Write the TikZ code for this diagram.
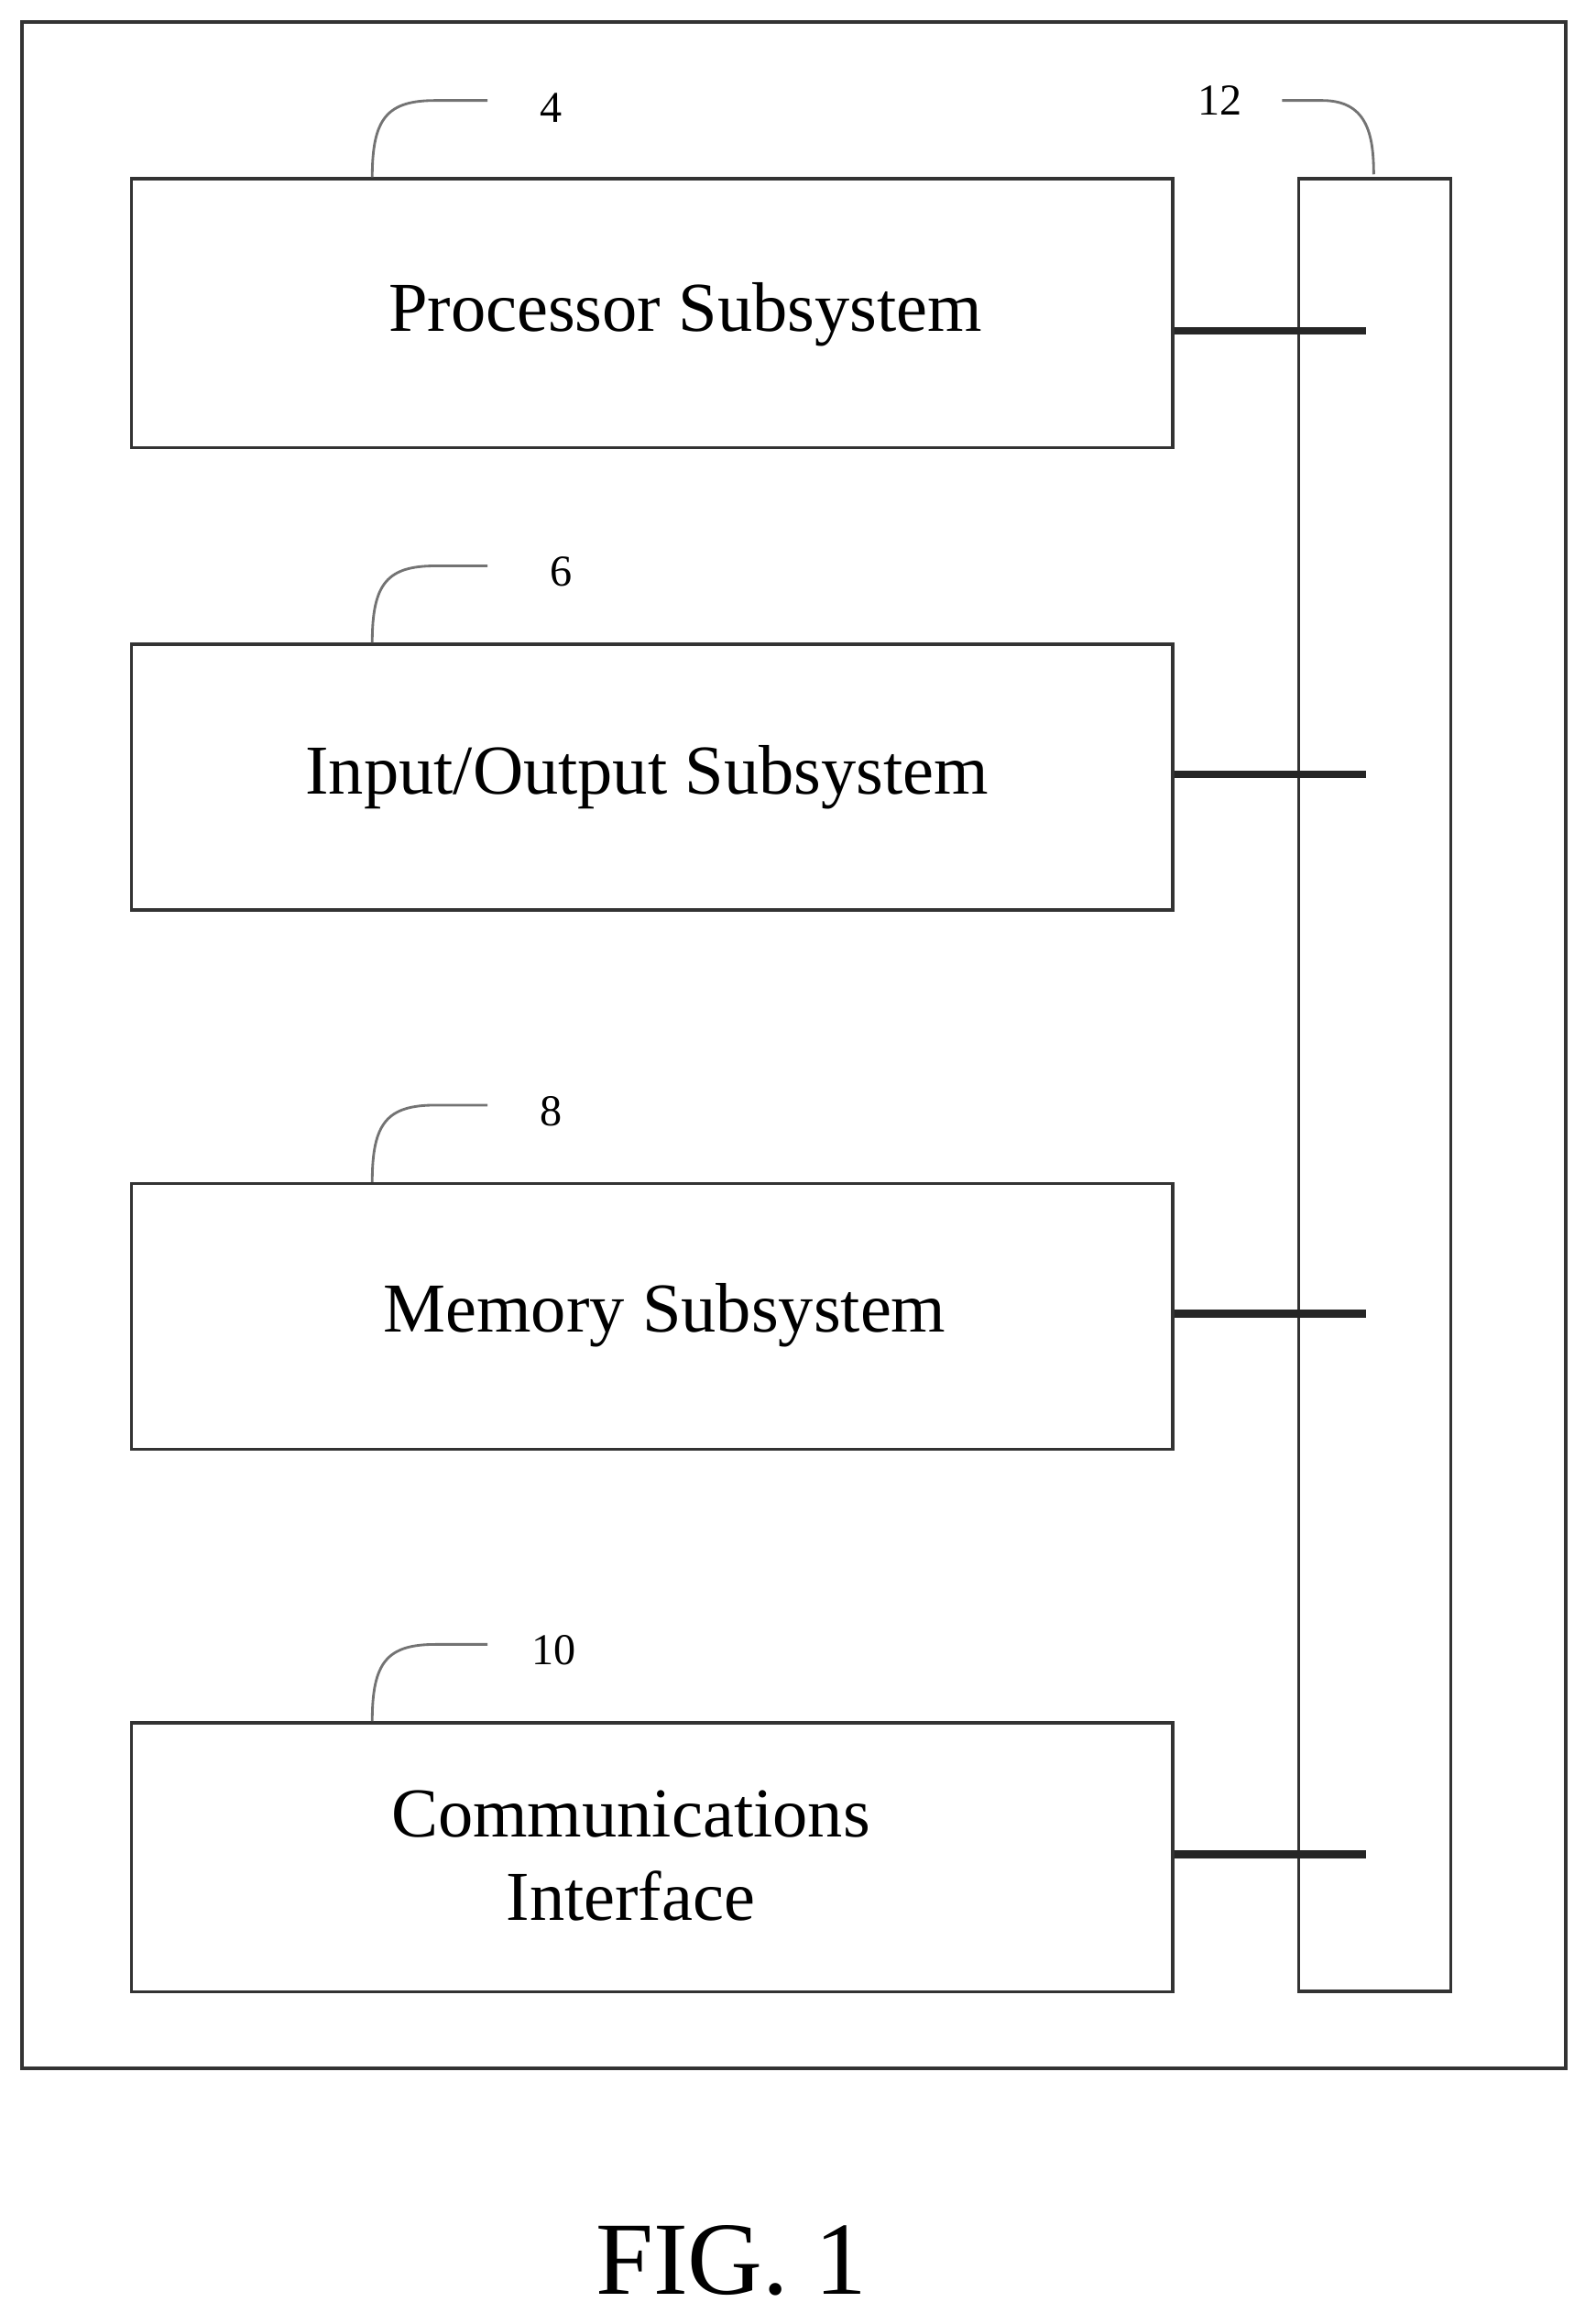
\documentclass[tikz,border=0pt]{standalone}
\usepackage{fontspec}
\setmainfont{Liberation Serif}
\usetikzlibrary{positioning, calc}

\tikzset{
  block/.style={draw=black!80, line width=1.2pt, minimum width=14.1cm, minimum height=3.64cm,
    align=center, font=\fontsize{27}{32}\selectfont, anchor=north west, inner sep=0pt},
  refnum/.style={font=\fontsize{17}{20}\selectfont},
  leader/.style={draw=black!55, line width=1pt},
  link/.style={line width=3pt, black!85}
}

\begin{document}
\begin{tikzpicture}[x=0.02cm, y=-0.02cm]
  \useasboundingbox (0,0) rectangle (1080,1573);
  % outer frame
  \draw[black!80, line width=1.3pt] (15,15) rectangle (1060,1400);
  % bus
  \node[draw=black!80, line width=1.2pt, minimum width=2.06cm, minimum height=24.54cm,
    anchor=north west, inner sep=0pt] (bus) at (878,120) {};
  % blocks
  \node[block] (proc) at (88,120) {};
  \node[font=\fontsize{27}{32}\selectfont] at (464,213) {Processor Subsystem};
  \node[block, minimum height=3.6cm] (io) at (88,435) {};
  \node[font=\fontsize{27}{32}\selectfont] at (438,526) {Input/Output Subsystem};
  \node[block, minimum height=3.6cm] (mem) at (88,800) {};
  \node[font=\fontsize{27}{32}\selectfont] at (450,890) {Memory Subsystem};
  \node[block] (comm) at (88,1165) {};
  \node[font=\fontsize{27}{32}\selectfont, align=center] at (427,1256) {Communications\\Interface};
  % connectors to bus
  \coordinate (p1) at (925,224);
  \coordinate (p2) at (925,524);
  \coordinate (p3) at (925,889);
  \coordinate (p4) at (925,1255);
  \draw[link] (proc.east |- p1) -- (p1);
  \draw[link] (io.east |- p2) -- (p2);
  \draw[link] (mem.east |- p3) -- (p3);
  \draw[link] (comm.east |- p4) -- (p4);
  % reference numbers
  \node[refnum] (n4) at (373,73) {4};
  \node[refnum] (n6) at (380,387) {6};
  \node[refnum] (n8) at (373,752) {8};
  \node[refnum] (n10) at (375,1117) {10};
  \node[refnum] (n12) at (826,68) {12};
  \foreach \y in {120, 435, 800, 1165}
    \draw[leader] (252,\y) .. controls (252,\y-40) and (262,\y-52) .. (295,\y-52) -- (330,\y-52);
  \draw[leader] (868,68) -- (895,68) .. controls (925,68) and (930,90) .. (930,118);
  % caption
  \node[font=\fontsize{40}{46}\selectfont] (fig) at (495,1530) {FIG. 1};
\end{tikzpicture}
\end{document}
